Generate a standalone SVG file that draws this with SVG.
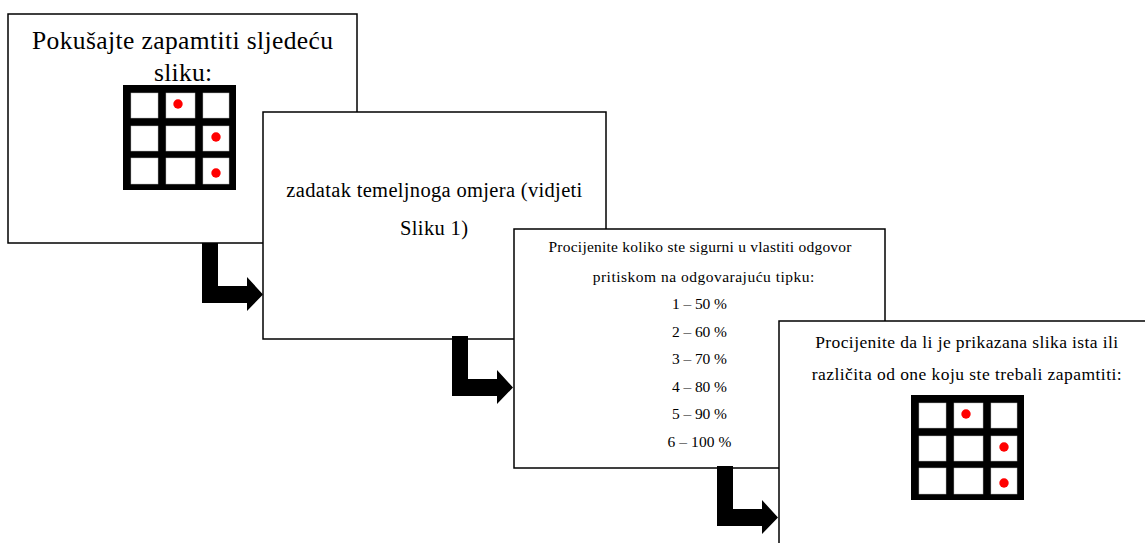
<svg xmlns="http://www.w3.org/2000/svg" xmlns:xlink="http://www.w3.org/1999/xlink" width="1145" height="543" viewBox="0 0 1145 543">
<style>
.box{fill:#fff;stroke:#000;stroke-width:1.5}
.t{fill:#000;text-anchor:middle}
.cell{fill:#fff;stroke:#bbb;stroke-width:0.5}
.dot{fill:#f00}
.arr{fill:#000}
</style>
<defs>
<g id="grid">
<rect x="0" y="0" width="113" height="105" fill="#000"/>
<rect class="cell" x="8" y="8" width="27" height="25"/>
<rect class="cell" x="43" y="8" width="29" height="25"/>
<rect class="cell" x="80" y="8" width="26" height="25"/>
<rect class="cell" x="8" y="41" width="27" height="25"/>
<rect class="cell" x="43" y="41" width="29" height="25"/>
<rect class="cell" x="80" y="41" width="26" height="25"/>
<rect class="cell" x="8" y="73" width="27" height="26"/>
<rect class="cell" x="43" y="73" width="29" height="26"/>
<rect class="cell" x="80" y="73" width="26" height="26"/>
<circle class="dot" cx="55" cy="19" r="4.7"/>
<circle class="dot" cx="93" cy="52" r="4.7"/>
<circle class="dot" cx="93" cy="88" r="4.7"/>
</g>
<path id="larrow" d="M0,0 H16 V43 H45 V34 L61,51.5 L45,68 V60 H0 Z"/>
</defs>
<g id="node1" font-family="'Liberation Serif', 'Times New Roman', Tinos, 'DejaVu Serif', serif">
<rect class="box" x="8" y="14" width="349" height="229"/>
<text class="t" x="182.5" y="49" font-size="25.5" textLength="301" lengthAdjust="spacing">Pokušajte zapamtiti sljedeću</text>
<text class="t" x="183" y="81" font-size="25.5" textLength="58" lengthAdjust="spacing">sliku:</text>
<use xlink:href="#grid" x="123" y="85"/>
</g>
<g id="node2" font-family="'Liberation Serif', 'Times New Roman', Tinos, 'DejaVu Serif', serif">
<rect class="box" x="263" y="112" width="343" height="227"/>
<text class="t" x="434.3" y="197" font-size="20.5" textLength="296" lengthAdjust="spacing">zadatak temeljnoga omjera (vidjeti</text>
<text class="t" x="434" y="235" font-size="20.5" textLength="68" lengthAdjust="spacing">Sliku 1)</text>
</g>
<g id="node3" font-family="'Liberation Serif', 'Times New Roman', Tinos, 'DejaVu Serif', serif">
<rect class="box" x="514" y="229" width="371" height="239"/>
<text class="t" x="700" y="252" font-size="15.5" textLength="303" lengthAdjust="spacing">Procijenite koliko ste sigurni u vlastiti odgovor</text>
<text class="t" x="703.5" y="282" font-size="15.5" textLength="221.6" lengthAdjust="spacing">pritiskom na odgovarajuću tipku:</text>
<text class="t" x="699.5" y="309" font-size="15.5" textLength="55" lengthAdjust="spacing">1 – 50 %</text>
<text class="t" x="699.5" y="337" font-size="15.5" textLength="55" lengthAdjust="spacing">2 – 60 %</text>
<text class="t" x="699.5" y="364" font-size="15.5" textLength="55" lengthAdjust="spacing">3 – 70 %</text>
<text class="t" x="699.5" y="392" font-size="15.5" textLength="55" lengthAdjust="spacing">4 – 80 %</text>
<text class="t" x="699.5" y="419" font-size="15.5" textLength="55" lengthAdjust="spacing">5 – 90 %</text>
<text class="t" x="699.5" y="447" font-size="15.5" textLength="64" lengthAdjust="spacing">6 – 100 %</text>
</g>
<g id="node4" font-family="'Liberation Serif', 'Times New Roman', Tinos, 'DejaVu Serif', serif">
<rect class="box" x="779" y="321" width="400" height="250"/>
<text class="t" x="966.7" y="348" font-size="17.5" textLength="303" lengthAdjust="spacing">Procijenite da li je prikazana slika ista ili</text>
<text class="t" x="966.7" y="380" font-size="17.5" textLength="310" lengthAdjust="spacing">različita od one koju ste trebali zapamtiti:</text>
<use xlink:href="#grid" x="911" y="395"/>
</g>
<g id="connectors" class="arr">
<use xlink:href="#larrow" x="202" y="243"/>
<use xlink:href="#larrow" x="452" y="336"/>
<use xlink:href="#larrow" x="717" y="466"/>
</g>
</svg>
